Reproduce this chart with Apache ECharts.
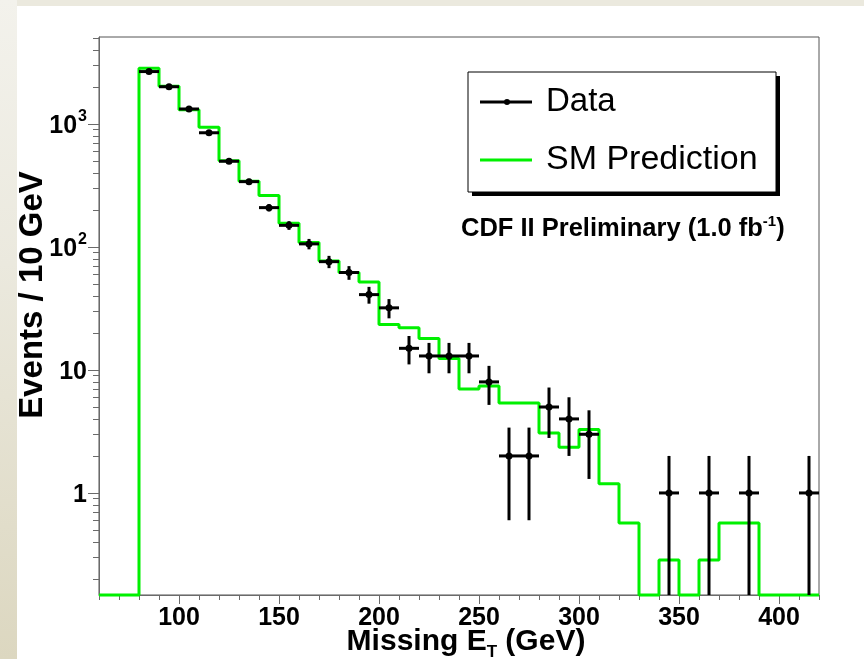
<!DOCTYPE html>
<html>
<head>
<meta charset="utf-8">
<script src="https://cdn.jsdelivr.net/npm/echarts@6/dist/echarts.min.js"></script>
<style>
html,body{margin:0;padding:0;background:#fff;}
#wrap{position:relative;width:864px;height:659px;overflow:hidden;background:#fff;}
#topstrip{position:absolute;left:0;top:0;width:864px;height:6px;background:#ebe9de;}
#leftstrip{position:absolute;left:0;top:0;width:17px;height:659px;background:linear-gradient(#f3f2ec,#ebe9de 40%,#dcd7c0);}
#chart{position:absolute;left:0;top:0;width:864px;height:659px;}
</style>
</head>
<body>
<div id="wrap">
<div id="topstrip"></div>
<div id="leftstrip"></div>
<div id="chart"></div>
</div>
<script>
// ---- data ----
// lower edges of the 10 GeV bins
const binEdges = [60,70,80,90,100,110,120,130,140,150,160,170,180,190,200,210,220,230,240,250,260,270,280,290,300,310,320,330,340,350,360,370,380,390,400,410];
const binUpper = 420;
const binWidth = 10;
// SM prediction per bin (0 = empty bin)
const smPrediction = [0,0,2845,2028,1308,940,502,343,262,156,109,77,62,52,23.4,22,18,12.4,7.0,7.4,5.4,5.4,3.07,2.35,3.28,1.19,0.57,0,0.285,0,0.285,0.57,0.57,0,0,0];
// observed data: bin centres, counts and error bar half lengths
const dataX   = [85,95,105,115,125,135,145,155,165,175,185,195,205,215,225,235,245,255,265,275,285,295,305,345,365,385,415];
const dataY   = [2670,2010,1325,849,498,340,209,150,106,76,62,41,32,15,13,13,13,8,2,2,5,4,3,1,1,1,1];
const dataErr = [51.7,44.8,36.4,29.1,22.3,18.4,14.5,12.2,10.3,8.7,7.9,6.4,5.7,3.9,3.6,3.6,3.6,2.8,1.4,1.4,2.2,2.0,1.7,1.0,1.0,1.0,1.0];
// axis ticks
const xMajorTicks = [100,150,200,250,300,350,400];
const yMajorTicks = [1,10,100,1000];
const yMinorTicks = [0.2,0.3,0.4,0.5,0.6,0.7,0.8,0.9,2,3,4,5,6,7,8,9,20,30,40,50,60,70,80,90,200,300,400,500,600,700,800,900,2000,3000,4000,5000];
const yLabelText = {1:'{b|1}',10:'{b|10}',100:'{b|10}{s|2}',1000:'{b|10}{s|3}'};
const xMin = 60, xMax = 420, yMin = 0.148, yMax = 5100;

// ---- build series data ----
const smLine = binEdges.map((e,i)=>[e, smPrediction[i] > 0 ? smPrediction[i] : yMin]);
smLine.push([binUpper, smPrediction[smPrediction.length-1] > 0 ? smPrediction[smPrediction.length-1] : yMin]);
const dataPts = dataX.map((x,i)=>[x, dataY[i], dataErr[i]]);

const FONT = "'Liberation Sans', Arial, Helvetica, sans-serif";
const chart = echarts.init(document.getElementById('chart'), null, {renderer:'canvas'});
const axisColor = '#6a6a6a';

chart.setOption({
  animation:false,
  backgroundColor:'transparent',
  grid:{left:99, top:37, width:720, height:558, show:true, borderColor:'#555', borderWidth:1, backgroundColor:'transparent'},
  xAxis:[
    {type:'value', min:xMin, max:xMax, position:'bottom',
     axisLine:{show:true, lineStyle:{color:axisColor, width:1}},
     axisTick:{show:true, customValues:xMajorTicks, length:9, lineStyle:{color:axisColor, width:1}},
     axisLabel:{show:true, customValues:xMajorTicks, margin:11, color:'#000', fontFamily:FONT, fontWeight:'bold', fontSize:25},
     splitLine:{show:false}},
    {type:'value', min:xMin, max:xMax, interval:10, position:'bottom',
     axisLine:{show:false},
     axisTick:{show:true, length:5, lineStyle:{color:axisColor, width:1}},
     axisLabel:{show:false}, splitLine:{show:false}}
  ],
  yAxis:[
    {type:'log', min:yMin, max:yMax, position:'left',
     axisLine:{show:true, lineStyle:{color:axisColor, width:1}},
     axisTick:{show:true, customValues:yMajorTicks, length:11, lineStyle:{color:axisColor, width:1}},
     axisLabel:{show:true, customValues:yMajorTicks, margin:12, color:'#000',
       formatter:(v)=>yLabelText[Math.round(v)] || String(v),
       rich:{
         b:{fontFamily:FONT, fontWeight:'bold', fontSize:25, color:'#000', lineHeight:30, padding:[4,0,0,0]},
         s:{fontFamily:FONT, fontWeight:'bold', fontSize:16, color:'#000', verticalAlign:'top', lineHeight:30, padding:[0,0,0,1]}
       }},
     splitLine:{show:false}},
    {type:'log', min:yMin, max:yMax, position:'left',
     axisLine:{show:false},
     axisTick:{show:true, customValues:yMinorTicks, length:6, lineStyle:{color:axisColor, width:1}},
     axisLabel:{show:false}, splitLine:{show:false}}
  ],
  series:[
    {name:'SM Prediction', type:'line', xAxisIndex:0, yAxisIndex:0, step:'end', data:smLine,
     showSymbol:false, symbol:'none', clip:false,
     lineStyle:{color:'#00f000', width:3}, z:2},
    {name:'Data', type:'custom', xAxisIndex:0, yAxisIndex:0, data:dataPts, z:3,
     renderItem:function(params, api){
       const x = api.value(0), y = api.value(1), e = api.value(2);
       const c = api.coord([x, y]);
       const top = api.coord([x, Math.min(y + e, yMax)]);
       const bot = api.coord([x, Math.max(y - e, yMin)]);
       const l = api.coord([x - binWidth/2, y]);
       const r = api.coord([x + binWidth/2, y]);
       return {type:'group', children:[
         {type:'line', shape:{x1:c[0], y1:top[1], x2:c[0], y2:bot[1]}, style:{stroke:'#000', lineWidth:3}},
         {type:'line', shape:{x1:l[0], y1:c[1], x2:r[0], y2:c[1]}, style:{stroke:'#000', lineWidth:3}},
         {type:'circle', shape:{cx:c[0], cy:c[1], r:3.5}, style:{fill:'#000'}}
       ]};
     }}
  ],
  graphic:[
    // legend box with shadow
    {type:'rect', shape:{x:472, y:76, width:308, height:120}, style:{fill:'#000'}, z:10},
    {type:'rect', shape:{x:468, y:72, width:308, height:120}, style:{fill:'#fff', stroke:'#000', lineWidth:1}, z:11},
    {type:'line', shape:{x1:480, y1:102, x2:532, y2:102}, style:{stroke:'#000', lineWidth:3}, z:12},
    {type:'circle', shape:{cx:507, cy:102, r:3}, style:{fill:'#000'}, z:12},
    {type:'text', x:546, y:102, style:{text:'Data', font:"33px "+FONT, fill:'#000', verticalAlign:'middle', align:'left'}, z:12},
    {type:'line', shape:{x1:480, y1:160, x2:532, y2:160}, style:{stroke:'#00f000', lineWidth:3}, z:12},
    {type:'text', x:546, y:160, style:{text:'SM Prediction', font:"34px "+FONT, fill:'#000', verticalAlign:'middle', align:'left'}, z:12},
    // experiment label
    {type:'text', x:461, y:229, z:12, style:{
      text:'{b|CDF II Preliminary (1.0 fb}{s|-1}{b|)}', verticalAlign:'middle', align:'left',
      rich:{
        b:{fontFamily:FONT, fontWeight:'bold', fontSize:25.5, fill:'#000', lineHeight:30},
        s:{fontFamily:FONT, fontWeight:'bold', fontSize:15, fill:'#000', verticalAlign:'top', lineHeight:30}
      }}},
    // axis titles
    {type:'text', x:33, y:295, rotation:Math.PI/2, z:12, style:{
      text:'Events / 10 GeV', font:"bold 33px "+FONT, fill:'#000', align:'center', verticalAlign:'middle'}},
    {type:'text', x:466, y:642, z:12, style:{
      text:'{b|Missing E}{t|T}{b| (GeV)}', align:'center', verticalAlign:'middle',
      rich:{
        b:{fontFamily:FONT, fontWeight:'bold', fontSize:30, fill:'#000', lineHeight:32},
        t:{fontFamily:FONT, fontWeight:'bold', fontSize:17, fill:'#000', verticalAlign:'bottom', lineHeight:38}
      }}}
  ]
});
</script>
</body>
</html>
